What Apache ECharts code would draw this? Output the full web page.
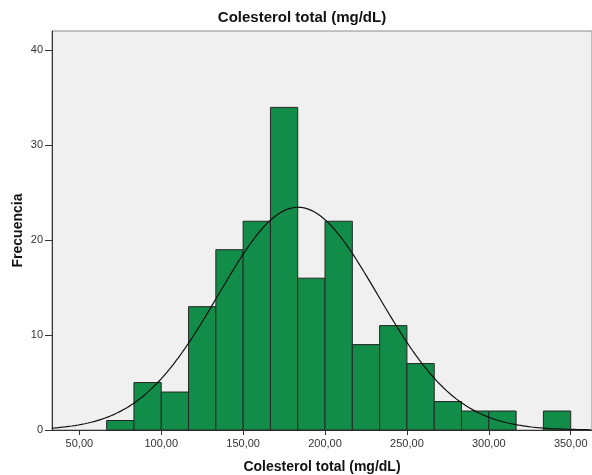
<!DOCTYPE html>
<html>
<head>
<meta charset="utf-8">
<script src="https://cdn.jsdelivr.net/npm/echarts@6/dist/echarts.min.js"></script>
<style>
  html, body { margin: 0; padding: 0; background: #ffffff; }
  #chart { width: 592px; height: 475px; }
</style>
</head>
<body>
<div id="chart"></div>
<script>
// Histogram bins of total cholesterol (mg/dL): edges and frequencies
const binEdges = [66.67, 83.33, 100, 116.67, 133.33, 150, 166.67, 183.33, 200,
                  216.67, 233.33, 250, 266.67, 283.33, 300, 316.67, 333.33, 350];
const binCounts = [1, 5, 4, 13, 19, 22, 34, 16, 22, 9, 11, 7, 3, 2, 2, 0, 2];

// Fitted normal curve parameters
const curveMean = 183.5;
const curveSd = 48.7;
const sampleSize = 172;

// Axis ticks
const xTicks = [50, 100, 150, 200, 250, 300, 350];
const yTicks = [0, 10, 20, 30, 40];

const xMin = 33.3, xMax = 363;
const yMin = 0, yMax = 42.05;

const FONT = "'Liberation Sans', Arial, sans-serif";

const bins = binCounts.map((c, i) => [binEdges[i], binEdges[i + 1], c]).filter(b => b[2] > 0);

// Normal density scaled to counts per bin
const binWidth = binEdges[1] - binEdges[0];
const curve = [];
for (let x = xMin; x <= xMax + 0.001; x += 1) {
  const z = (x - curveMean) / curveSd;
  const y = sampleSize * binWidth / (curveSd * Math.sqrt(2 * Math.PI)) * Math.exp(-0.5 * z * z);
  curve.push([x, y]);
}

const chart = echarts.init(document.getElementById('chart'), null, { renderer: 'canvas' });

chart.setOption({
  animation: false,
  backgroundColor: '#ffffff',
  title: {
    text: 'Colesterol total (mg/dL)',
    left: 302,
    top: 10,
    textAlign: 'center',
    padding: 0,
    textStyle: { fontFamily: FONT, fontSize: 15, fontWeight: 'bold', color: '#111' }
  },
  grid: {
    left: 52,
    top: 31,
    right: 0,
    bottom: 45,
    outerBoundsMode: 'none',
    containLabel: false,
    show: true,
    backgroundColor: '#f0f0f0',
    borderColor: '#8a8a8a',
    borderWidth: 1
  },
  xAxis: {
    type: 'value',
    min: xMin,
    max: xMax,
    name: 'Colesterol total (mg/dL)',
    nameLocation: 'middle',
    nameGap: 30,
    nameMoveOverlap: false,
    nameTextStyle: { fontFamily: FONT, fontSize: 14, fontWeight: 'bold', color: '#111' },
    splitLine: { show: false },
    axisLine: { show: true, onZero: false, lineStyle: { color: '#333', width: 1 } },
    axisTick: { show: true, length: 5, customValues: xTicks, lineStyle: { color: '#333' } },
    axisLabel: {
      customValues: xTicks,
      margin: 8,
      fontFamily: FONT,
      fontSize: 11,
      color: '#333',
      formatter: v => v.toFixed(2).replace('.', ',')
    }
  },
  yAxis: {
    type: 'value',
    min: yMin,
    max: yMax,
    name: 'Frecuencia',
    nameLocation: 'middle',
    nameRotate: 90,
    nameGap: 27,
    nameMoveOverlap: false,
    nameTextStyle: { fontFamily: FONT, fontSize: 14, fontWeight: 'bold', color: '#111' },
    splitLine: { show: false },
    axisLine: { show: true, lineStyle: { color: '#333', width: 1 } },
    axisTick: { show: true, length: 7, customValues: yTicks, lineStyle: { color: '#333' } },
    axisLabel: {
      customValues: yTicks,
      margin: 9,
      fontFamily: FONT,
      fontSize: 11,
      color: '#333'
    }
  },
  series: [
    {
      type: 'custom',
      data: bins,
      encode: { x: [0, 1], y: 2 },
      renderItem: function (params, api) {
        const p0 = api.coord([api.value(0), api.value(2)]);
        const p1 = api.coord([api.value(1), 0]);
        return {
          type: 'rect',
          shape: { x: p0[0], y: p0[1], width: p1[0] - p0[0], height: p1[1] - p0[1] },
          style: { fill: '#128c49', stroke: '#262626', lineWidth: 1 }
        };
      },
      z: 2
    },
    {
      type: 'line',
      data: curve,
      showSymbol: false,
      symbol: 'none',
      smooth: false,
      lineStyle: { color: '#111', width: 1.2 },
      z: 3
    }
  ]
});
</script>
</body>
</html>
